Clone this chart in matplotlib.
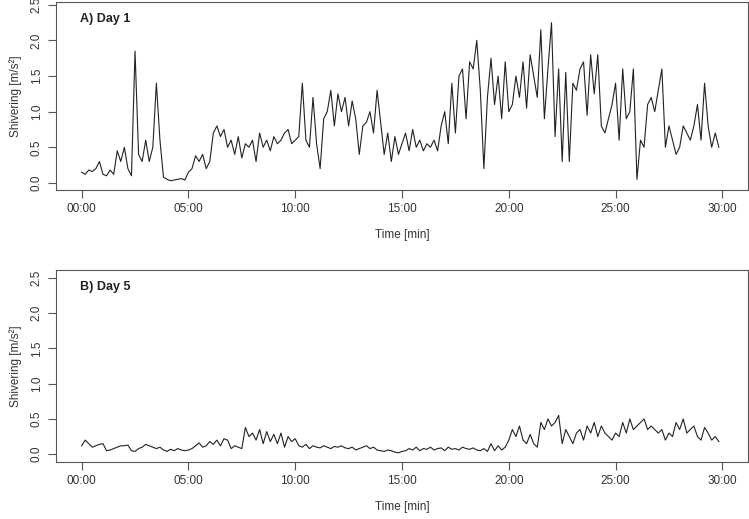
import numpy as np
import matplotlib
matplotlib.use("Agg")
import matplotlib.pyplot as plt

plt.rcParams["font.family"] = "Liberation Sans"

# shivering, 10 s samples
day1 = [0.15,0.12,0.18,0.16,0.2,0.3,0.12,0.1,0.18,0.12,0.45,0.3,
        0.5,0.2,0.1,1.85,0.4,0.3, 0.6,0.3,0.5,1.4,0.6,0.08,
        0.05,0.03,0.04,0.05,0.06,0.04, 0.15,0.2,0.38,0.3,0.4,0.2,
        0.3,0.7,0.8,0.65,0.75,0.5, 0.6,0.4,0.65,0.35,0.55,0.5,
        0.6,0.3,0.7,0.5,0.6,0.45, 0.65,0.55,0.6,0.7,0.75,0.55,
        0.6,0.65,1.4,0.6,0.5,1.2, 0.55,0.2,0.9,1.0,1.3,0.8,
        1.25,1.0,1.2,0.8,1.15,0.9, 0.4,0.8,0.85,1.0,0.7,1.3,
        0.85,0.4,0.7,0.3,0.65,0.4, 0.55,0.7,0.45,0.75,0.5,0.6,
        0.45,0.55,0.5,0.6,0.45,0.8, 1.0,0.55,1.4,0.7,1.5,1.6,
        0.9,1.7,1.6,2.0,1.3,0.2, 1.2,1.75,1.1,1.5,0.9,1.7,
        1.0,1.1,1.5,1.2,1.7,1.05, 1.8,1.5,1.2,2.15,0.9,1.6,
        2.25,0.65,1.6,0.3,1.55,0.3, 1.4,1.3,1.6,1.7,0.95,1.8,
        1.25,1.8,0.8,0.7,0.9,1.1, 1.4,0.6,1.6,0.9,1.0,1.6,
        0.05,0.6,0.5,1.1,1.2,1.0, 1.3,1.6,0.5,0.8,0.6,0.4,
        0.5,0.8,0.7,0.6,0.8,1.1, 0.6,1.4,0.8,0.5,0.7,0.5]

day5 = [0.12,0.2,0.15,0.1,0.12,0.14,0.15,0.05,0.06,0.08,0.1,0.12,0.12,0.13,0.05,
        0.04,0.08,0.1,0.14,0.12,0.1,0.08,0.1,0.06,0.04,0.07,0.05,0.08,0.06,0.05,
        0.06,0.08,0.12,0.16,0.1,0.12,0.18,0.14,0.2,0.12,0.22,0.2,0.08,0.12,0.1,
        0.08,0.38,0.25,0.3,0.2,0.35,0.15,0.32,0.18,0.28,0.15,0.3,0.1,0.25,0.18,
        0.22,0.12,0.1,0.14,0.08,0.12,0.1,0.09,0.12,0.1,0.08,0.11,0.1,0.12,0.09,
        0.08,0.1,0.06,0.08,0.1,0.12,0.08,0.1,0.06,0.05,0.04,0.06,0.05,0.03,0.02,
        0.04,0.05,0.08,0.06,0.1,0.05,0.08,0.07,0.1,0.06,0.08,0.09,0.05,0.1,0.07,
        0.08,0.06,0.1,0.08,0.07,0.09,0.06,0.05,0.08,0.04,0.15,0.05,0.12,0.06,0.1,
        0.2,0.35,0.25,0.4,0.2,0.15,0.28,0.15,0.1,0.45,0.35,0.5,0.4,0.45,0.55,
        0.15,0.35,0.25,0.15,0.3,0.35,0.2,0.4,0.3,0.45,0.25,0.4,0.3,0.25,0.2,
        0.3,0.25,0.45,0.3,0.5,0.35,0.4,0.45,0.5,0.35,0.4,0.35,0.3,0.35,0.2,
        0.3,0.25,0.45,0.35,0.5,0.3,0.35,0.4,0.25,0.2,0.38,0.3,0.2,0.25,0.18]

xticks = [0, 5, 10, 15, 20, 25, 30]
xticklabels = ["00:00", "05:00", "10:00", "15:00", "20:00", "25:00", "30:00"]
yticks = [0.0, 0.5, 1.0, 1.5, 2.0, 2.5]

fig = plt.figure(figsize=(7.49, 5.19), dpi=100)
boxes = [[56/749, 1-190/519, 692/749, 188/519], [56/749, 1-462/519, 692/749, 192/519]]
ylims = [(-0.1, 2.54), (-0.11, 2.61)]
grey = "#555555"

for box, yl, data, title in zip(boxes, ylims, [day1, day5], ["A) Day 1", "B) Day 5"]):
    ax = fig.add_axes(box)
    t = np.arange(len(data)) * 10 / 60
    ax.plot(t, data, color="#222222", lw=0.8)
    ax.set_xlim(-1.2, 31.2)
    ax.set_ylim(*yl)
    ax.set_xticks(xticks)
    ax.set_xticklabels(xticklabels)
    ax.set_yticks(yticks)
    ax.set_yticklabels(["%.1f" % v for v in yticks], rotation=90, va="center")
    for s in ax.spines.values():
        s.set_color(grey)
    ax.tick_params(colors=grey, labelcolor="#333333", labelsize=8.5, length=6)
    ax.set_xlabel("Time [min]", fontsize=8.5, color="#333333", labelpad=10)
    ax.set_ylabel("Shivering [m/s²]", fontsize=8.5, color="#333333", labelpad=6)
    ax.text(0.035, 0.91, title, transform=ax.transAxes, fontsize=9,
            fontweight="bold", va="center", color="#222222")

fig.savefig("out.png", dpi=100)
